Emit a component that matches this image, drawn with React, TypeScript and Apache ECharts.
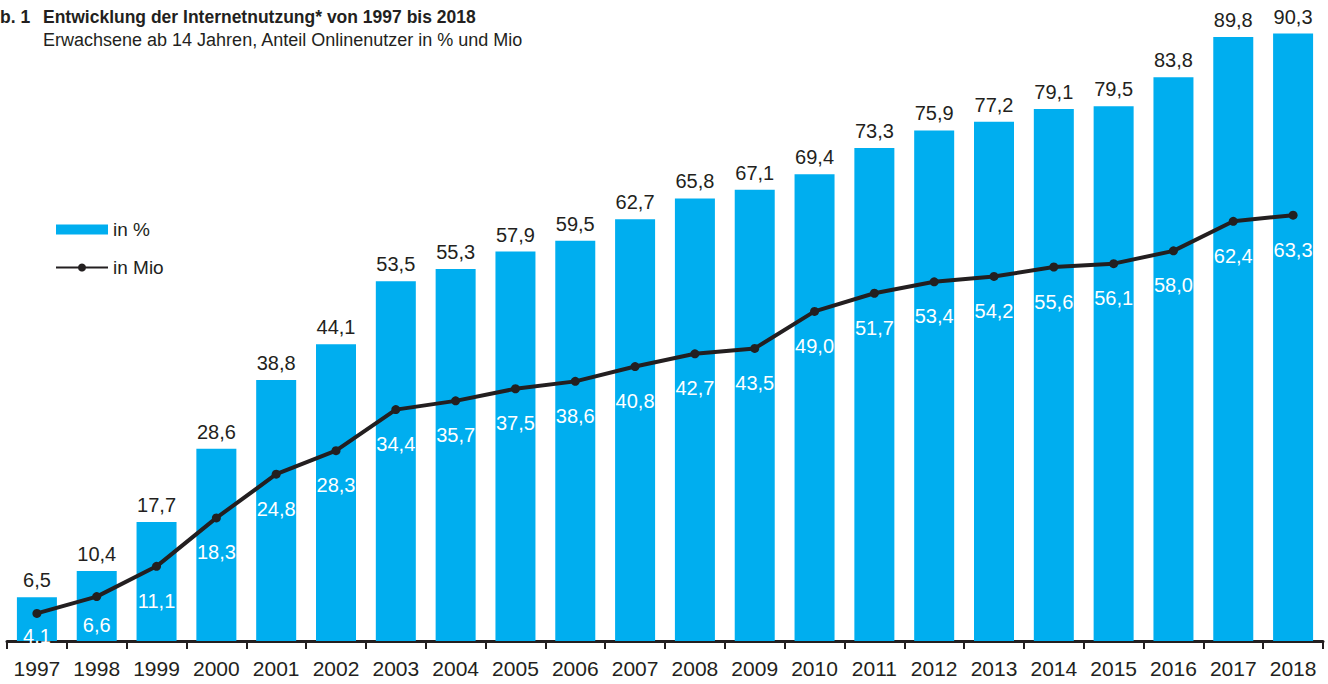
import React, { useEffect, useRef } from "react";
import * as echarts from "echarts";

const years = ["1997","1998","1999","2000","2001","2002","2003","2004","2005","2006","2007","2008","2009","2010","2011","2012","2013","2014","2015","2016","2017","2018"];
const sharePercent = [6.5,10.4,17.7,28.6,38.8,44.1,53.5,55.3,57.9,59.5,62.7,65.8,67.1,69.4,73.3,75.9,77.2,79.1,79.5,83.8,89.8,90.3];
const usersMio = [4.1,6.6,11.1,18.3,24.8,28.3,34.4,35.7,37.5,38.6,40.8,42.7,43.5,49.0,51.7,53.4,54.2,55.6,56.1,58.0,62.4,63.3];

const titleText = "Entwicklung der Internetnutzung* von 1997 bis 2018";
const subtitleText = "Erwachsene ab 14 Jahren, Anteil Onlinenutzer in % und Mio";

const FONT = "'Liberation Sans Narrow', 'Arial Narrow', 'Liberation Sans', Arial, sans-serif";
const DARK = "#231f20";
const BLUE = "#00aeef";

const fmt = (v: number) => v.toFixed(1).replace(".", ",");

export default function App() {
  const ref = useRef<HTMLDivElement>(null);
  useEffect(() => {
    if (!ref.current) return;
    const chart = echarts.init(ref.current, undefined, { renderer: "svg" });
    chart.setOption({
      animation: false,
      textStyle: { fontFamily: FONT },
      grid: { left: 7, right: 5, top: 2, bottom: 43 },
      legend: {
        left: 50,
        top: 215,
        orient: "vertical",
        itemWidth: 52,
        itemHeight: 10,
        itemGap: 19,
        textStyle: { fontFamily: FONT, fontSize: 19, color: DARK },
        data: [
          { name: "in %", icon: "rect" },
          { name: "in Mio" },
        ],
      },
      graphic: [
        { type: "text", left: 0, top: 8, style: { text: "b. 1", font: `bold 17.5px ${FONT}`, fill: DARK } },
        { type: "text", left: 43, top: 8, style: { text: titleText, font: `bold 17.5px ${FONT}`, fill: DARK } },
        { type: "text", left: 43, top: 31, style: { text: subtitleText, font: `18px ${FONT}`, fill: DARK } },
      ],
      xAxis: {
        type: "category",
        data: years,
        axisLine: { lineStyle: { color: DARK, width: 3 } },
        axisTick: { show: true, length: 8, interval: 0, lineStyle: { color: DARK, width: 2 } },
        axisLabel: { fontFamily: FONT, fontSize: 21, color: DARK, margin: 17, interval: 0 },
      },
      yAxis: { type: "value", min: 0, max: 95, show: false, splitLine: { show: false } },
      series: [
        {
          name: "in %",
          type: "bar",
          data: sharePercent,
          barWidth: 40,
          itemStyle: { color: BLUE },
          label: {
            show: true,
            position: "top",
            distance: 7,
            fontFamily: FONT,
            fontSize: 20,
            color: DARK,
            formatter: (p: any) => fmt(p.value),
          },
        },
        {
          name: "in Mio",
          type: "line",
          data: usersMio.map((v, i) => ({
            value: v,
            label: { distance: i === 0 ? 8 : i === 1 ? 14 : 20 },
          })),
          symbol: "circle",
          symbolSize: 9,
          lineStyle: { color: DARK, width: 4 },
          itemStyle: { color: DARK },
          z: 3,
          label: {
            show: true,
            position: "bottom",
            distance: 20,
            fontFamily: FONT,
            fontSize: 20,
            color: "#ffffff",
            formatter: (p: any) => fmt(p.value),
          },
        },
      ],
    });
    return () => chart.dispose();
  }, []);
  return <div ref={ref} style={{ position: "absolute", left: 0, top: 0, width: 1328, height: 684 }} />;
}
